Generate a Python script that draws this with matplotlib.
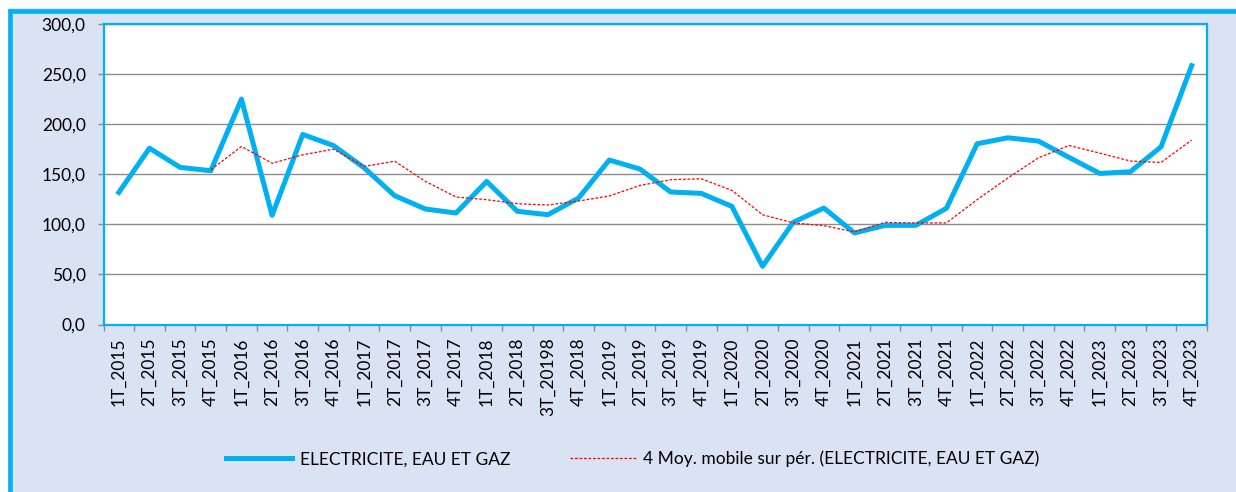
"""
ELECTRICITE, EAU ET GAZ - indice trimestriel et moyenne mobile
"""
import numpy as np
import matplotlib
matplotlib.use('Agg')
from matplotlib import pyplot as plt
from matplotlib.patches import Rectangle
from matplotlib.lines import Line2D
from matplotlib.ticker import FuncFormatter

plt.rcParams['font.family'] = ['Lato', 'DejaVu Sans']

# trimestres
labels = ['1T_2015', '2T_2015', '3T_2015', '4T_2015',
          '1T_2016', '2T_2016', '3T_2016', '4T_2016',
          '1T_2017', '2T_2017', '3T_2017', '4T_2017',
          '1T_2018', '2T_2018', '3T_20198', '4T_2018',
          '1T_2019', '2T_2019', '3T_2019', '4T_2019',
          '1T_2020', '2T_2020', '3T_2020', '4T_2020',
          '1T_2021', '2T_2021', '3T_2021', '4T_2021',
          '1T_2022', '2T_2022', '3T_2022', '4T_2022',
          '1T_2023', '2T_2023', '3T_2023', '4T_2023']

# indice
indice = [131.9, 176.0, 156.8, 153.5,
          225.0, 109.0, 189.7, 178.7,
          156.5, 128.6, 115.3, 111.3,
          142.8, 113.0, 109.6, 126.3,
          164.2, 155.2, 132.3, 130.9,
          117.9, 58.1, 102.0, 116.3,
          91.4, 99.0, 99.0, 116.0,
          180.4, 186.4, 183.1, 166.8,
          150.8, 152.5, 177.4, 258.4]

# moyenne mobile sur 4 periodes (commence au 4T_2015)
moy_mobile = [None, None, None, 154.5,
              177.7, 161.0, 169.4, 175.0,
              157.8, 163.0, 142.9, 127.3,
              124.6, 120.6, 119.3, 123.3,
              128.3, 138.8, 144.5, 145.5,
              133.9, 109.6, 101.4, 98.7,
              92.4, 102.0, 101.4, 101.4,
              124.6, 146.2, 166.4, 178.7,
              171.1, 163.2, 161.8, 184.1]

bleu = '#00B0F0'
fond = '#DAE3F3'

fig = plt.figure(figsize=(12.36, 4.92), dpi=100)
fig.patch.set_facecolor('white')

# fond bleu clair + cadre
W, H = 1236, 492
fig.add_artist(Rectangle((8 / W, 0), 1 - 8 / W, 1 - 8 / H, transform=fig.transFigure,
                         facecolor=fond, edgecolor='none', zorder=0))
fig.add_artist(Line2D([8 / W, 1], [1 - 10.5 / H, 1 - 10.5 / H], transform=fig.transFigure,
                      color=bleu, lw=3.3, solid_capstyle='butt'))
fig.add_artist(Line2D([10 / W, 10 / W], [0, 1 - 8.5 / H], transform=fig.transFigure,
                      color=bleu, lw=3.3, solid_capstyle='butt'))

ax = fig.add_axes([103.5 / W, 1 - 324.5 / H, (1207 - 103.5) / W, (324.5 - 24) / H])
ax.set_facecolor('white')

x = np.arange(len(labels))
ma = np.array([np.nan if v is None else v for v in moy_mobile])

ax.plot(x, indice, color=bleu, lw=3.6, solid_joinstyle='round', zorder=3,
        label='ELECTRICITE, EAU ET GAZ')
ax.plot(x, ma, color='red', lw=0.9, linestyle=(0, (2.2, 1.4)), zorder=4,
        label='4 Moy. mobile sur pér. (ELECTRICITE, EAU ET GAZ)')

ax.set_xlim(-0.5, len(labels) - 0.5)
ax.set_ylim(0, 300)
ax.set_yticks(np.arange(0, 301, 50))
ax.yaxis.set_major_formatter(FuncFormatter(lambda v, p: f'{v:.1f}'.replace('.', ',')))
ax.grid(axis='y', color='#8C8C8C', lw=1.0, zorder=1)
ax.set_axisbelow(True)

ax.set_xticks(x)
ax.set_xticklabels(labels, rotation=90, va='top', ha='center')
ax.set_xticks(np.arange(-0.5, len(labels), 1), minor=True)
ax.tick_params(axis='x', which='major', length=0, pad=9.5, labelsize=12.5)
ax.tick_params(axis='x', which='minor', length=4.3, color='#8C8C8C', width=1)
ax.tick_params(axis='y', which='major', length=4.3, color='#8C8C8C', width=1,
               pad=8.5, labelsize=12.5)

for s in ax.spines.values():
    s.set_color(bleu)
    s.set_linewidth(1.6)

fig.legend(loc='center', bbox_to_anchor=(633 / W, 1 - 459 / H), ncol=2, frameon=False,
           fontsize=12.5, handlelength=3.8, handletextpad=0.45, columnspacing=3.4)

plt.savefig('out.png', dpi=100)
